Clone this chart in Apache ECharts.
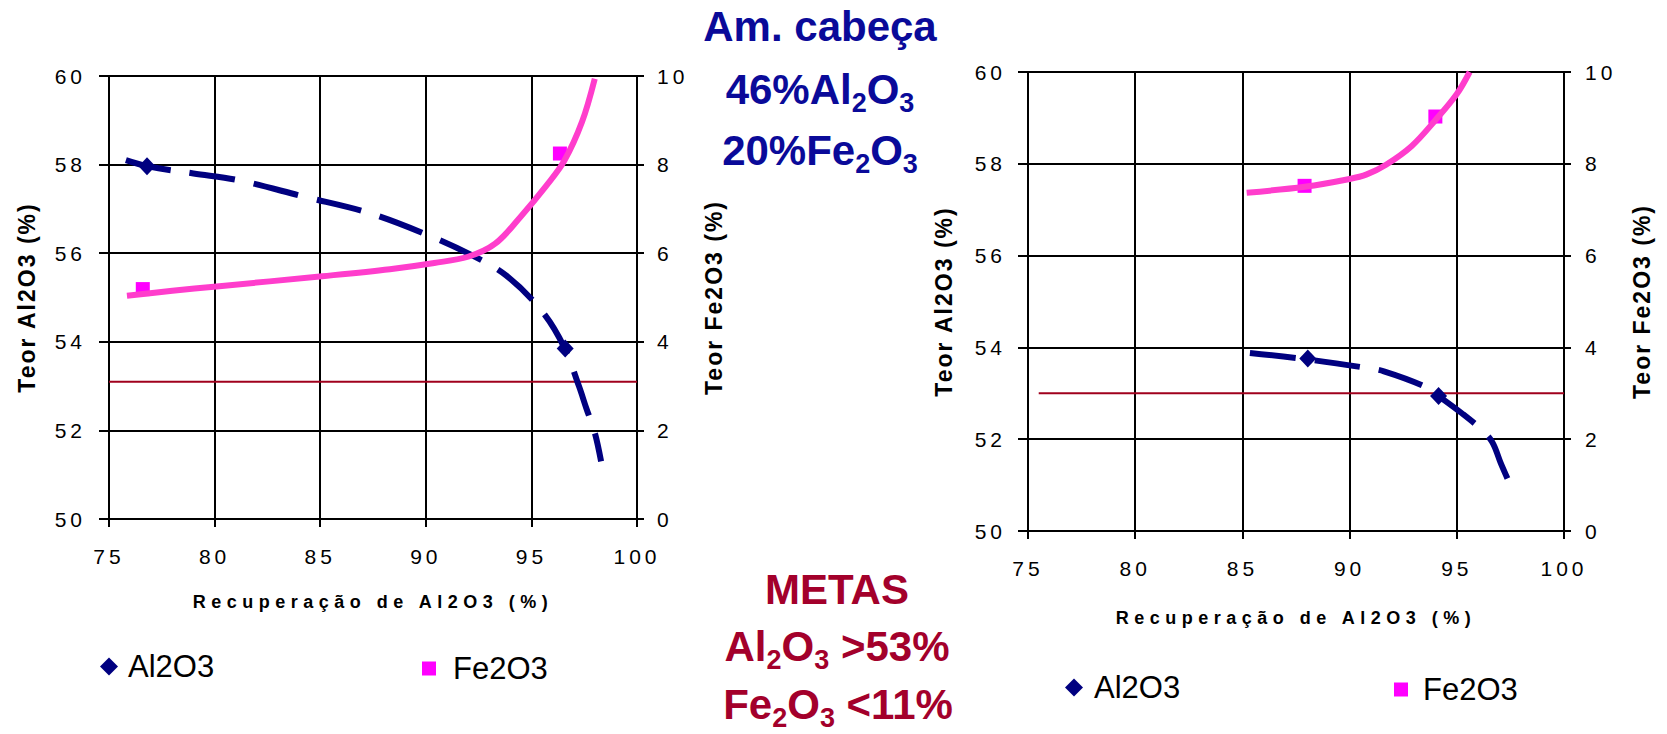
<!DOCTYPE html>
<html>
<head>
<meta charset="utf-8">
<script src="https://cdn.jsdelivr.net/npm/echarts@6/dist/echarts.min.js"></script>
<style>
  html, body { margin: 0; padding: 0; background: #fff; }
  #chart { width: 1667px; height: 734px; }
  /* spaced-out axis typography (SVG renderer) */
  #chart text[style*="sp4"], #chart text[font-family*="sp4"] { letter-spacing: 4px; }
  #chart text[style*="sp6"], #chart text[font-family*="sp6"] { letter-spacing: 5.5px; }
  #chart text[style*="sp2"], #chart text[font-family*="sp2"] { letter-spacing: 2px; }
</style>
</head>
<body>
<div id="chart"></div>
<script>
// Axis ranges: [min, max, interval]
const recoveryRange = [75, 100, 5];
const al2o3Range = [50, 60, 2];
const fe2o3Range = [0, 10, 2];

const xAxisName = 'Recuperação de Al2O3 (%)';
const yLeftName = 'Teor Al2O3 (%)';
const yRightName = 'Teor Fe2O3 (%)';

// Left chart: measured points
const leftAl2O3Points = [[76.8, 57.96], [96.6, 53.85]];
const leftFe2O3Points = [[76.6, 5.19], [96.35, 8.25]];
// Left chart: trend curves
const leftAl2O3Trend = [[75.8, 58.10], [76.85, 57.96], [79.0, 57.80], [81.2, 57.64], [84.2, 57.28],
  [87.3, 56.91], [90.2, 56.39], [92.2, 55.95], [93.8, 55.50], [95.5, 54.69], [96.55, 53.88],
  [97.25, 53.0], [97.6, 52.5], [98.0, 51.95], [98.3, 51.3]];
const leftFe2O3Trend = [[75.85, 5.04], [78.0, 5.15], [80.1, 5.25], [85.1, 5.48], [88.3, 5.64],
  [90.4, 5.78], [92.0, 5.92], [93.3, 6.22], [94.5, 6.83], [95.7, 7.52], [96.55, 8.08],
  [97.4, 8.97], [98.0, 9.94]];
const leftTarget = [[75, 53.1], [100, 53.1]];

// Right chart: measured points
const rightAl2O3Points = [[88.05, 53.76], [94.15, 52.94]];
const rightFe2O3Points = [[87.9, 7.52], [94.0, 9.03]];
// Right chart: trend curves
const rightAl2O3Trend = [[85.35, 53.88], [88.0, 53.74], [90.7, 53.56], [91.6, 53.48], [93.5, 53.15],
  [94.15, 52.94], [95.25, 52.56], [96.1, 52.23], [96.65, 51.94], [97.05, 51.48], [97.5, 51.0]];
const rightFe2O3Trend = [[85.2, 7.37], [87.9, 7.50], [90.0, 7.67], [90.8, 7.77], [91.7, 7.98],
  [92.9, 8.39], [94.0, 8.95], [95.0, 9.52], [95.6, 10.0]];
const rightTarget = [[75.5, 53], [100, 53]];

const NAVY = '#000080';
const PINK_LINE = '#ff3dcc';
const MAGENTA = '#ff00ff';
const TARGET_RED = '#a0001c';
const TITLE_BLUE = '#0a0a99';
const TITLE_RED = '#a3002b';

const tickFont = 'Liberation Sans, sp4';

function xAxis(gridIndex, nameGap) {
  return {
    gridIndex, type: 'value',
    min: recoveryRange[0], max: recoveryRange[1], interval: recoveryRange[2],
    name: xAxisName, nameLocation: 'middle', nameGap,
    nameTextStyle: { fontSize: 18, fontWeight: 'bold', color: '#000', fontFamily: 'Liberation Sans, sp6' },
    axisLine: { show: true, lineStyle: { color: '#000', width: 2 } },
    axisTick: { show: true, length: 8, lineStyle: { color: '#000', width: 2 } },
    axisLabel: { fontSize: 21, color: '#000', margin: 27, fontFamily: tickFont },
    splitLine: { show: true, lineStyle: { color: '#000', width: 2 } }
  };
}

function yAxisLeft(gridIndex, nameGap, labelMargin) {
  return {
    gridIndex, type: 'value', position: 'left',
    min: al2o3Range[0], max: al2o3Range[1], interval: al2o3Range[2],
    name: yLeftName, nameLocation: 'middle', nameGap, nameRotate: 90,
    nameTextStyle: { fontSize: 23, fontWeight: 'bold', color: '#000', fontFamily: 'Liberation Sans, sp2' },
    axisLine: { show: true, lineStyle: { color: '#000', width: 2 } },
    axisTick: { show: true, length: 10, lineStyle: { color: '#000', width: 2 } },
    axisLabel: { fontSize: 21, color: '#000', margin: labelMargin, fontFamily: tickFont },
    splitLine: { show: true, lineStyle: { color: '#000', width: 2 } }
  };
}

function yAxisRight(gridIndex, nameGap, labelMargin) {
  return {
    gridIndex, type: 'value', position: 'right',
    min: fe2o3Range[0], max: fe2o3Range[1], interval: fe2o3Range[2],
    name: yRightName, nameLocation: 'middle', nameGap, nameRotate: 90,
    nameTextStyle: { fontSize: 23, fontWeight: 'bold', color: '#000', fontFamily: 'Liberation Sans, sp2' },
    axisLine: { show: true, lineStyle: { color: '#000', width: 2 } },
    axisTick: { show: true, length: 7, lineStyle: { color: '#000', width: 2 } },
    axisLabel: { fontSize: 21, color: '#000', margin: labelMargin, fontFamily: tickFont },
    splitLine: { show: false }
  };
}

function trend(name, data, xi, yi, color, dashed) {
  return {
    name, type: 'line', xAxisIndex: xi, yAxisIndex: yi, data,
    smooth: 0.35, symbol: 'none', showSymbol: false, silent: true, z: 4,
    lineStyle: { color, width: 6, type: dashed ? [46, 19] : 'solid', cap: 'butt', join: 'round' },
    emphasis: { disabled: true }
  };
}

function points(name, data, xi, yi, symbol, size, color) {
  return {
    name, type: 'scatter', xAxisIndex: xi, yAxisIndex: yi, data,
    symbol, symbolSize: size, itemStyle: { color, opacity: 1 }, z: 3,
    emphasis: { disabled: true }
  };
}

function target(name, data, xi, yi) {
  return {
    name, type: 'line', xAxisIndex: xi, yAxisIndex: yi, data,
    symbol: 'none', showSymbol: false, silent: true, z: 2,
    lineStyle: { color: TARGET_RED, width: 2 },
    emphasis: { disabled: true }
  };
}

function legend(name, icon, size, textGap, left, top) {
  return {
    data: [name], icon, itemWidth: size, itemHeight: size,
    left, top, padding: 0, selectedMode: false,
    itemStyle: { opacity: 1 },
    formatter: '{t|{name}}',
    textStyle: {
      fontSize: 31, color: '#000', fontFamily: 'Liberation Sans',
      rich: { t: { fontSize: 31, color: '#000', fontFamily: 'Liberation Sans', padding: [0, 0, 0, textGap] } }
    }
  };
}

// Bold formula line; {s|..} tokens are pushed down as subscripts via top padding
function formula(text, x, y, color) {
  const base = { fontSize: 42, fontWeight: 'bold', fontFamily: 'Liberation Sans', fill: color };
  return {
    type: 'text', x, y, silent: true,
    style: {
      text, align: 'center', verticalAlign: 'middle', fill: color,
      fontSize: 42, fontWeight: 'bold', fontFamily: 'Liberation Sans',
      rich: {
        m: base,
        s: { fontSize: 27, fontWeight: 'bold', fontFamily: 'Liberation Sans', fill: color,
             padding: [27, 0, 0, 0] }
      }
    }
  };
}

const chart = echarts.init(document.getElementById('chart'), null, { renderer: 'svg' });
chart.setOption({
  animation: false,
  backgroundColor: '#fff',
  grid: [
    { left: 109, top: 76, width: 528, height: 443 },
    { left: 1028, top: 72, width: 536, height: 459 }
  ],
  xAxis: [xAxis(0, 74), xAxis(1, 78)],
  yAxis: [
    yAxisLeft(0, 71, 23), yAxisRight(0, 65, 20),
    yAxisLeft(1, 73, 22), yAxisRight(1, 66, 21)
  ],
  legend: [
    legend('Al2O3', 'diamond', 18, 5, 100, 651),
    legend('Fe2O3', 'rect', 14, 12, 422, 653),
    legend('Al2O3', 'diamond', 18, 6, 1065, 672),
    legend('Fe2O3', 'rect', 14, 10, 1394, 674)
  ],
  graphic: [
    formula('{m|Am. cabeça}', 820, 26, TITLE_BLUE),
    formula('{m|46%Al}{s|2}{m|O}{s|3}', 820, 89, TITLE_BLUE),
    formula('{m|20%Fe}{s|2}{m|O}{s|3}', 820, 150, TITLE_BLUE),
    formula('{m|METAS}', 837, 589, TITLE_RED),
    formula('{m|Al}{s|2}{m|O}{s|3}{m| >53%}', 837, 646, TITLE_RED),
    formula('{m|Fe}{s|2}{m|O}{s|3}{m| <11%}', 838, 704, TITLE_RED)
  ],
  series: [
    target('Meta Al2O3 (esq.)', leftTarget, 0, 0),
    points('Al2O3', leftAl2O3Points, 0, 0, 'diamond', [17, 18], NAVY),
    points('Fe2O3', leftFe2O3Points, 0, 1, 'rect', 14, MAGENTA),
    trend('Tendência Al2O3 (esq.)', leftAl2O3Trend, 0, 0, NAVY, true),
    trend('Tendência Fe2O3 (esq.)', leftFe2O3Trend, 0, 1, PINK_LINE, false),

    target('Meta Al2O3 (dir.)', rightTarget, 1, 2),
    points('Al2O3', rightAl2O3Points, 1, 2, 'diamond', [17, 18], NAVY),
    points('Fe2O3', rightFe2O3Points, 1, 3, 'rect', 14, MAGENTA),
    trend('Tendência Al2O3 (dir.)', rightAl2O3Trend, 1, 2, NAVY, true),
    trend('Tendência Fe2O3 (dir.)', rightFe2O3Trend, 1, 3, PINK_LINE, false)
  ]
});
</script>
</body>
</html>
